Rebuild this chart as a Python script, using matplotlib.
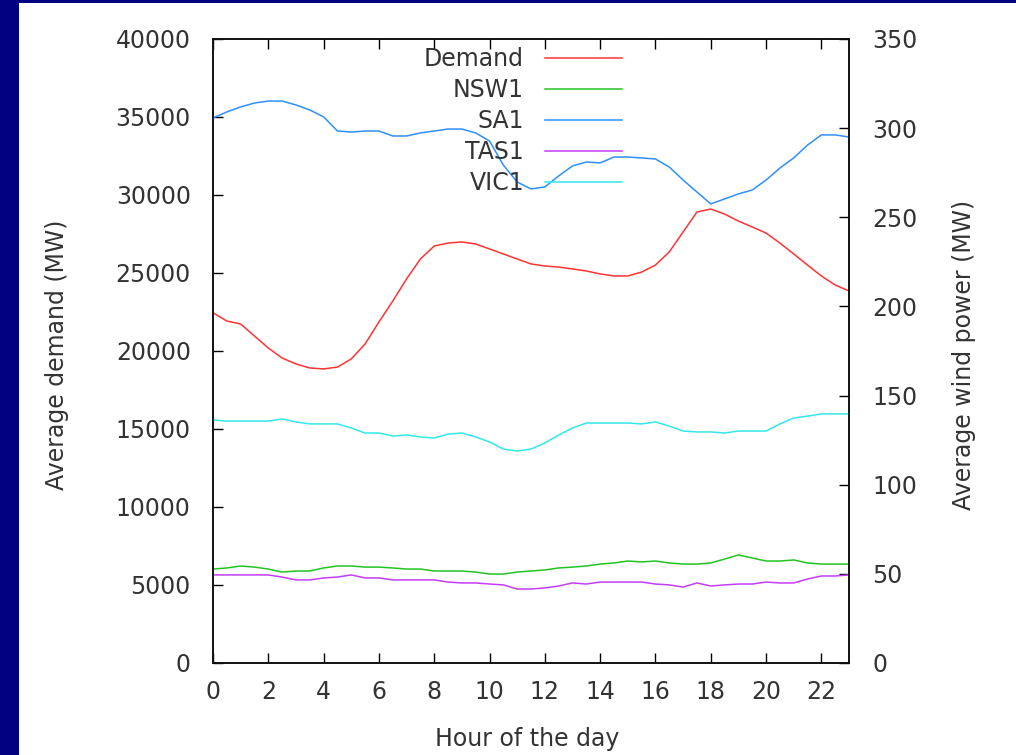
import matplotlib
matplotlib.use("Agg")
import matplotlib.pyplot as plt
import numpy as np
from matplotlib.patches import Rectangle

# half-hourly averages, hour 0 .. 23
hours = np.arange(0, 23.01, 0.5)

demand = [22450, 21920, 21730, 20960, 20190, 19550, 19170, 18910, 18850, 18970,
          19490, 20450, 21860, 23200, 24620, 25900, 26730, 26920, 26990, 26860,
          26540, 26220, 25900, 25580, 25450, 25380, 25260, 25130, 24940, 24810,
          24810, 25060, 25510, 26350, 27630, 28910, 29100, 28780, 28330, 27950,
          27560, 26920, 26220, 25510, 24810, 24230, 23850]

nsw1 = [52.7, 53.3, 54.4, 53.8, 52.7, 51.0, 51.6, 51.6, 53.3, 54.4,
        54.4, 53.8, 53.8, 53.3, 52.7, 52.7, 51.6, 51.6, 51.6, 51.0,
        49.9, 49.9, 51.0, 51.6, 52.2, 53.3, 53.8, 54.4, 55.5, 56.1,
        57.2, 56.7, 57.2, 56.1, 55.5, 55.5, 56.1, 58.3, 60.6, 58.9,
        57.2, 57.2, 57.8, 56.1, 55.5, 55.5, 55.5]

sa1 = [305.7, 309.1, 311.9, 314.1, 315.2, 315.2, 313.0, 310.2, 306.3, 298.4,
       297.8, 298.4, 298.4, 295.6, 295.6, 297.3, 298.4, 299.5, 299.5, 297.3,
       292.8, 279.3, 269.8, 265.9, 267.0, 273.2, 278.8, 281.0, 280.5, 283.8,
       283.8, 283.3, 282.7, 278.2, 270.9, 264.2, 257.5, 260.3, 263.1, 265.3,
       270.9, 277.6, 283.3, 290.5, 296.2, 296.2, 295.0]

tas1 = [49.4, 49.4, 49.4, 49.4, 49.4, 48.2, 46.6, 46.6, 47.7, 48.2,
        49.4, 47.7, 47.7, 46.6, 46.6, 46.6, 46.6, 45.4, 44.9, 44.9,
        44.3, 43.8, 41.5, 41.5, 42.1, 43.2, 44.9, 44.3, 45.4, 45.4,
        45.4, 45.4, 44.3, 43.8, 42.6, 44.9, 43.2, 43.8, 44.3, 44.3,
        45.4, 44.9, 44.9, 47.1, 48.8, 48.8, 49.4]

vic1 = [136.3, 135.7, 135.7, 135.7, 135.7, 136.9, 135.2, 134.1, 134.1, 134.1,
        131.8, 129.0, 129.0, 127.3, 127.9, 126.8, 126.2, 128.4, 129.0, 126.8,
        124.0, 120.0, 118.9, 120.0, 123.4, 127.9, 131.8, 134.6, 134.6, 134.6,
        134.6, 134.1, 135.2, 132.9, 130.1, 129.6, 129.6, 129.0, 130.1, 130.1,
        130.1, 134.1, 137.4, 138.5, 139.7, 139.7, 139.7]

wind_names = ["NSW1", "SA1", "TAS1", "VIC1"]
wind_series = [nsw1, sa1, tas1, vic1]
wind_colors = ["#22c422", "#2f8fff", "#c43cff", "#33e8e8"]

txt = "#333333"
fs = 17

fig = plt.figure(figsize=(10.16, 7.55), dpi=100)
fig.patch.set_facecolor("#000080")
fig.patches.append(Rectangle((19 / 1016, 0), 1, 1 - 3 / 755, transform=fig.transFigure,
                             facecolor="white", edgecolor="none", zorder=-10))

ax = fig.add_axes([213 / 1016, 1 - 663 / 755, 636 / 1016, 624 / 755])
ax2 = ax.twinx()

l0, = ax.plot(hours, demand, color="#ff3333", lw=1.1, label="Demand")
lines = [l0]
for name, vals, c in zip(wind_names, wind_series, wind_colors):
    ln, = ax2.plot(hours, vals, color=c, lw=1.1, label=name)
    lines.append(ln)

ax.set_xlim(0, 23)
ax.set_ylim(0, 40000)
ax2.set_ylim(0, 350)
ax.set_xticks(range(0, 23, 2))
ax.set_yticks(range(0, 40001, 5000))
ax2.set_yticks(range(0, 351, 50))

for a in (ax, ax2):
    for s in a.spines.values():
        s.set_linewidth(1.2)
        s.set_color("#111111")
ax.tick_params(axis="x", direction="in", top=True, length=7, width=1, pad=12,
               labelsize=fs, labelcolor=txt)
ax.tick_params(axis="y", direction="in", length=7, width=1, pad=16,
               labelsize=fs, labelcolor=txt)
ax2.tick_params(axis="y", direction="in", length=7, width=1, pad=17,
                labelsize=fs, labelcolor=txt)

ax.set_xlabel("Hour of the day", fontsize=fs, color=txt)
ax.set_ylabel("Average demand (MW)", fontsize=fs, color=txt)
ax2.set_ylabel("Average wind power (MW)", fontsize=fs, color=txt)
ax.xaxis.set_label_coords(0.494, -0.103)
ax.yaxis.set_label_coords(-0.226, 0.494)
ax2.yaxis.set_label_coords(1.162, 0.494)

leg = ax2.legend(handles=lines, loc="upper right", bbox_to_anchor=(622 / 1016, 1 - 47 / 755),
                 bbox_transform=fig.transFigure, frameon=False, markerfirst=False,
                 fontsize=fs, handlelength=3.25, handletextpad=0.9, labelspacing=0.3,
                 borderpad=0, borderaxespad=0)
for t in leg.get_texts():
    t.set_color(txt)

fig.savefig("out.png", dpi=100, facecolor=fig.get_facecolor())
